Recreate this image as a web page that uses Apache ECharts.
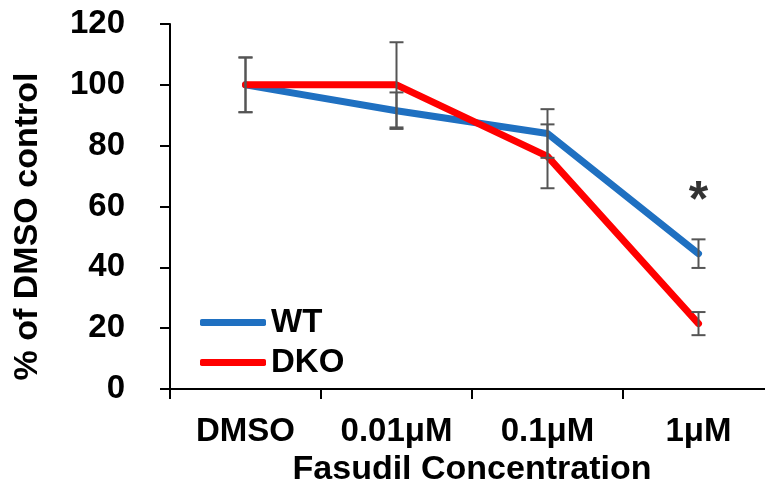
<!DOCTYPE html>
<html lang="en">
<head>
<meta charset="UTF-8">
<title>Fasudil Concentration</title>
<script src="https://cdn.jsdelivr.net/npm/echarts@6/dist/echarts.min.js"></script>
<style>
  html, body { margin: 0; padding: 0; background: #fff; overflow: hidden; }
</style>
</head>
<body>
<!-- the plot area runs a little past the right edge in the original, so the canvas is wider than the window -->
<div id="main" style="width:775px; height:497px;"></div>
<script>
// data
var categories = ['DMSO', '0.01μM', '0.1μM', '1μM'];
var wtMean = [100, 91.5, 84, 44.5];
var wtErr = [9, 6, 8, 4.7];
var dkoMean = [100, 100, 76.5, 21.5];
var dkoErr = [9, 14, 10.5, 3.8];
var starPoint = ['1μM', 64];

var FONT = 'Arial, "Liberation Sans", sans-serif';
var BLUE = '#1f70c1';
var RED = '#ff0000';

function errData(mean, err) {
  return mean.map(function (m, i) { return [i, m - err[i], m + err[i]]; });
}

function renderErr(params, api) {
  var x = api.value(0);
  var lo = api.coord([x, api.value(1)]);
  var hi = api.coord([x, api.value(2)]);
  var w = 7;
  var style = { stroke: '#555', lineWidth: 2 };
  return {
    type: 'group',
    children: [
      { type: 'line', shape: { x1: lo[0], y1: lo[1], x2: hi[0], y2: hi[1] }, style: style },
      { type: 'line', shape: { x1: lo[0] - w, y1: lo[1], x2: lo[0] + w, y2: lo[1] }, style: style },
      { type: 'line', shape: { x1: hi[0] - w, y1: hi[1], x2: hi[0] + w, y2: hi[1] }, style: style }
    ]
  };
}

var myChart = echarts.init(document.getElementById('main'));
myChart.setOption({
  backgroundColor: '#fff',
  animation: false,
  grid: { left: 170, top: 24, right: 1, bottom: 108 },
  legend: {
    orient: 'vertical',
    left: 200,
    top: 306,
    padding: 0,
    itemWidth: 66,
    itemHeight: 7,
    itemGap: 7,
    icon: 'roundRect',
    data: ['WT', 'DKO'],
    textStyle: { fontFamily: FONT, fontWeight: 'bold', fontSize: 33, color: '#000', lineHeight: 33 }
  },
  xAxis: {
    type: 'category',
    data: categories,
    boundaryGap: true,
    name: 'Fasudil Concentration',
    nameLocation: 'middle',
    nameGap: 61,
    nameTextStyle: { fontFamily: FONT, fontWeight: 'bold', fontSize: 34, color: '#000' },
    axisLine: { lineStyle: { color: '#000', width: 2 } },
    axisTick: { show: true, alignWithLabel: false, interval: 0, length: 10, lineStyle: { color: '#000', width: 2 } },
    axisLabel: { fontFamily: FONT, fontWeight: 'bold', fontSize: 33, color: '#000', margin: 26 }
  },
  yAxis: {
    type: 'value',
    min: 0,
    max: 120,
    interval: 20,
    name: '% of DMSO control',
    nameLocation: 'middle',
    nameGap: 125,
    nameTextStyle: { fontFamily: FONT, fontWeight: 'bold', fontSize: 34, color: '#000', padding: [0, 40, 0, 0] },
    axisLine: { show: true, lineStyle: { color: '#000', width: 2 } },
    axisTick: { show: true, length: 10, lineStyle: { color: '#000', width: 2 } },
    splitLine: { show: false },
    axisLabel: { fontFamily: FONT, fontWeight: 'bold', fontSize: 33, color: '#000', margin: 45 }
  },
  series: [
    {
      name: 'WT', type: 'line', data: wtMean, symbol: 'none', z: 2,
      itemStyle: { color: BLUE },
      lineStyle: { color: BLUE, width: 7, cap: 'round', join: 'round' }
    },
    {
      name: 'DKO', type: 'line', data: dkoMean, symbol: 'none', z: 3,
      itemStyle: { color: RED },
      lineStyle: { color: RED, width: 7, cap: 'round', join: 'round' }
    },
    {
      name: 'WT err', type: 'custom', renderItem: renderErr, data: errData(wtMean, wtErr), z: 5
    },
    {
      name: 'DKO err', type: 'custom', renderItem: renderErr, data: errData(dkoMean, dkoErr), z: 5
    },
    {
      name: 'sig', type: 'scatter', data: [starPoint], symbolSize: 1,
      itemStyle: { color: 'rgba(0,0,0,0)' },
      label: {
        show: true, position: 'inside', formatter: '*', offset: [0, 8],
        fontFamily: FONT, fontWeight: 'bold', fontSize: 50, color: '#000'
      }
    }
  ]
});
</script>
</body>
</html>
